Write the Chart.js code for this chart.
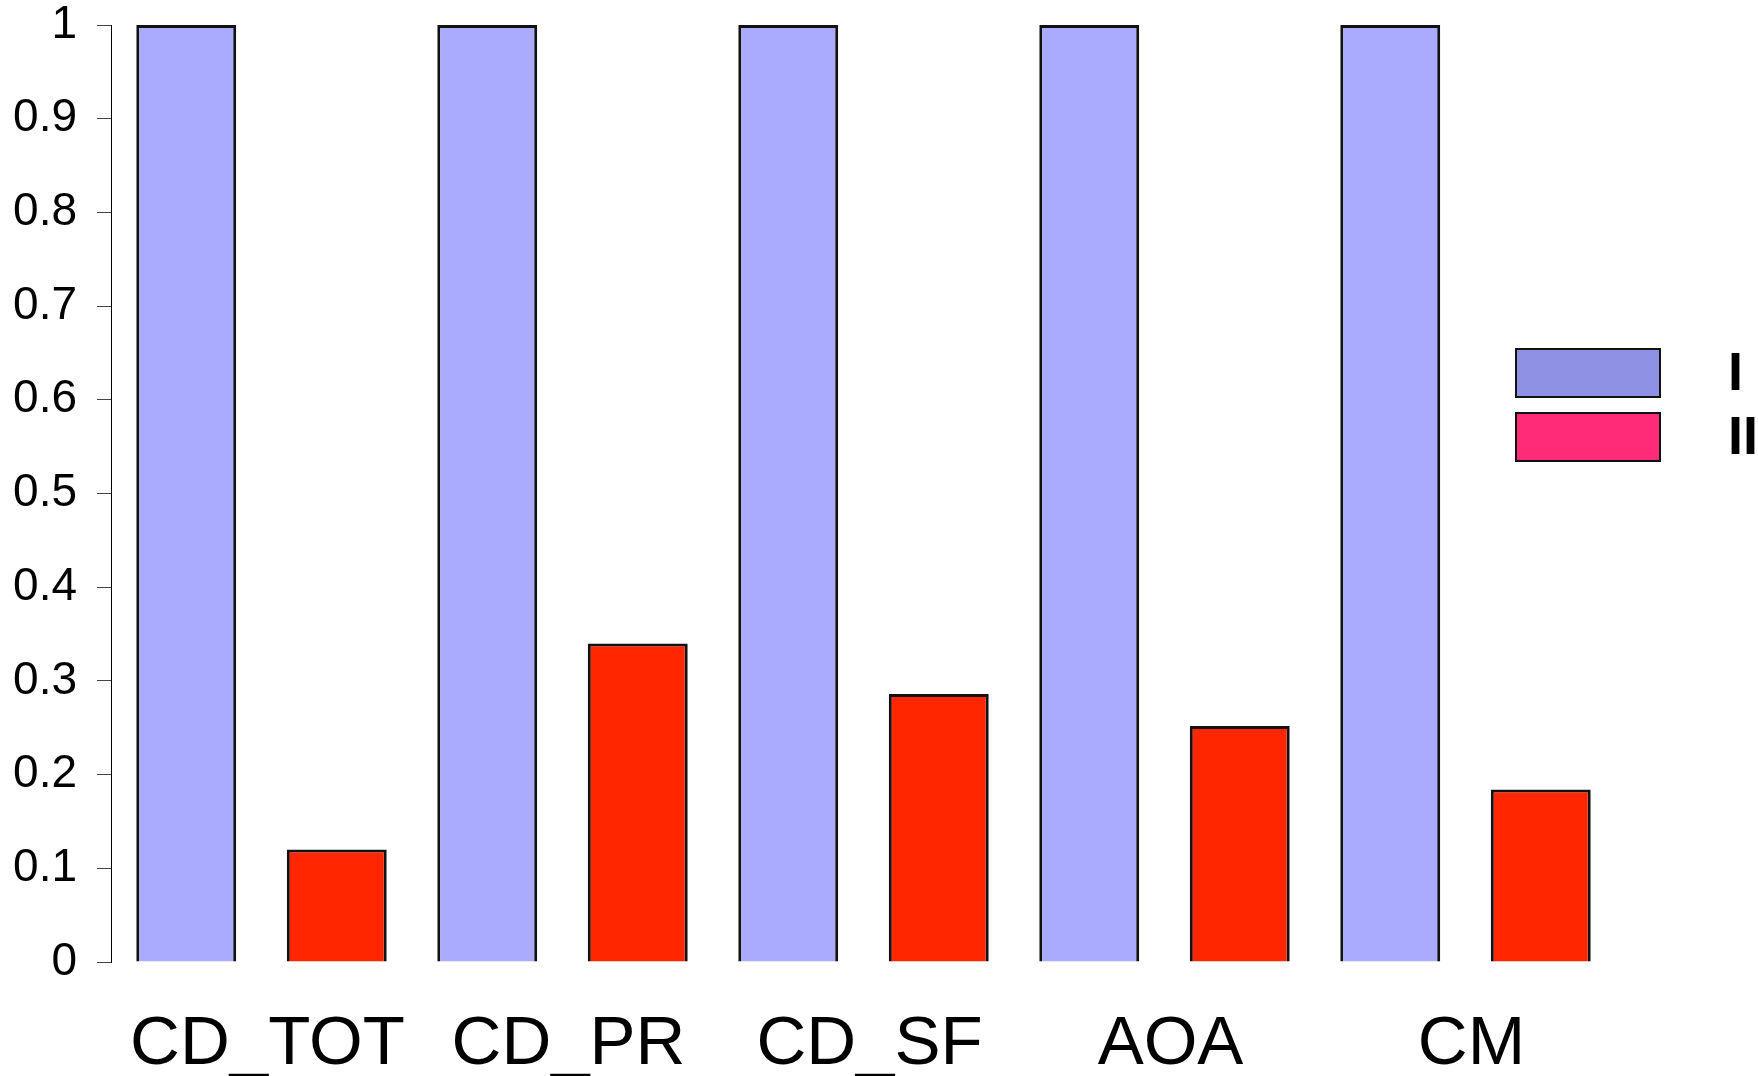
<!DOCTYPE html>
<html>
<head>
<meta charset="utf-8">
<script src="https://cdn.jsdelivr.net/npm/chart.js@4/dist/chart.umd.min.js"></script>
<style>
  html, body { margin: 0; padding: 0; background: #fff; }
  canvas { display: block; }
</style>
</head>
<body>
<canvas id="c" width="1758" height="1076"></canvas>
<script>
const categories = ['CD_TOT', 'CD_PR', 'CD_SF', 'AOA', 'CM'];
const seriesNames = ['I', 'II'];
const seriesI = [1, 1, 1, 1, 1];
const seriesII = [0.12, 0.34, 0.286, 0.252, 0.184];
const yTickLabels = ['0', '0.1', '0.2', '0.3', '0.4', '0.5', '0.6', '0.7', '0.8', '0.9', '1'];

const barColors = ['#aaaaff', '#ff2600'];
const legendColors = ['#8f92e4', '#ff2a78'];

const FONT = '"Liberation Sans", Arial, Helvetica, sans-serif';

const customLegend = {
  id: 'customLegend',
  afterDraw(chart) {
    const ctx = chart.ctx;
    ctx.save();
    const boxX = 1516, boxW = 144, boxH = 48;
    const boxYs = [349, 413];
    chart.data.datasets.forEach((ds, i) => {
      const y = boxYs[i];
      ctx.fillStyle = legendColors[i];
      ctx.fillRect(boxX, y, boxW, boxH);
      ctx.lineWidth = 2;
      ctx.strokeStyle = '#111';
      ctx.strokeRect(boxX, y, boxW, boxH);
      ctx.fillStyle = '#000';
      ctx.font = 'bold 54px ' + FONT;
      ctx.textBaseline = 'middle';
      ctx.textAlign = 'left';
      ctx.fillText(ds.label, 1728, y + boxH / 2 + 2);
    });
    ctx.restore();
  }
};

new Chart(document.getElementById('c'), {
  type: 'bar',
  data: {
    labels: categories,
    datasets: [
      { label: seriesNames[0], data: seriesI, backgroundColor: barColors[0], borderColor: '#111', borderWidth: 3 },
      { label: seriesNames[1], data: seriesII, backgroundColor: barColors[1], borderColor: '#111', borderWidth: 3 }
    ]
  },
  options: {
    responsive: false,
    animation: false,
    layout: { padding: { top: 25, right: 142, left: 0, bottom: 0 } },
    datasets: { bar: { categoryPercentage: 1.0, barPercentage: 0.664 } },
    plugins: { legend: { display: false }, tooltip: { enabled: false } },
    scales: {
      x: {
        grid: { display: false, drawTicks: false },
        border: { display: false },
        ticks: { color: '#000', font: { family: FONT, size: 69 }, padding: 42, labelOffset: 6, maxRotation: 0, autoSkip: false },
        afterFit(scale) { scale.height = 114; scale.paddingLeft = 0; scale.paddingRight = 0; }
      },
      y: {
        min: 0, max: 1,
        grid: { drawOnChartArea: false, drawTicks: true, tickLength: 14, color: '#444', lineWidth: 1 },
        border: { display: true, color: '#000', width: 1 },
        ticks: {
          stepSize: 0.1,
          color: '#000',
          font: { family: FONT, size: 46, lineHeight: 1 },
          padding: 20,
          callback: (v, i) => yTickLabels[i]
        },
        afterFit(scale) { scale.width = 111; scale.paddingTop = 0; scale.paddingBottom = 0; }
      }
    }
  },
  plugins: [customLegend]
});
</script>
</body>
</html>
